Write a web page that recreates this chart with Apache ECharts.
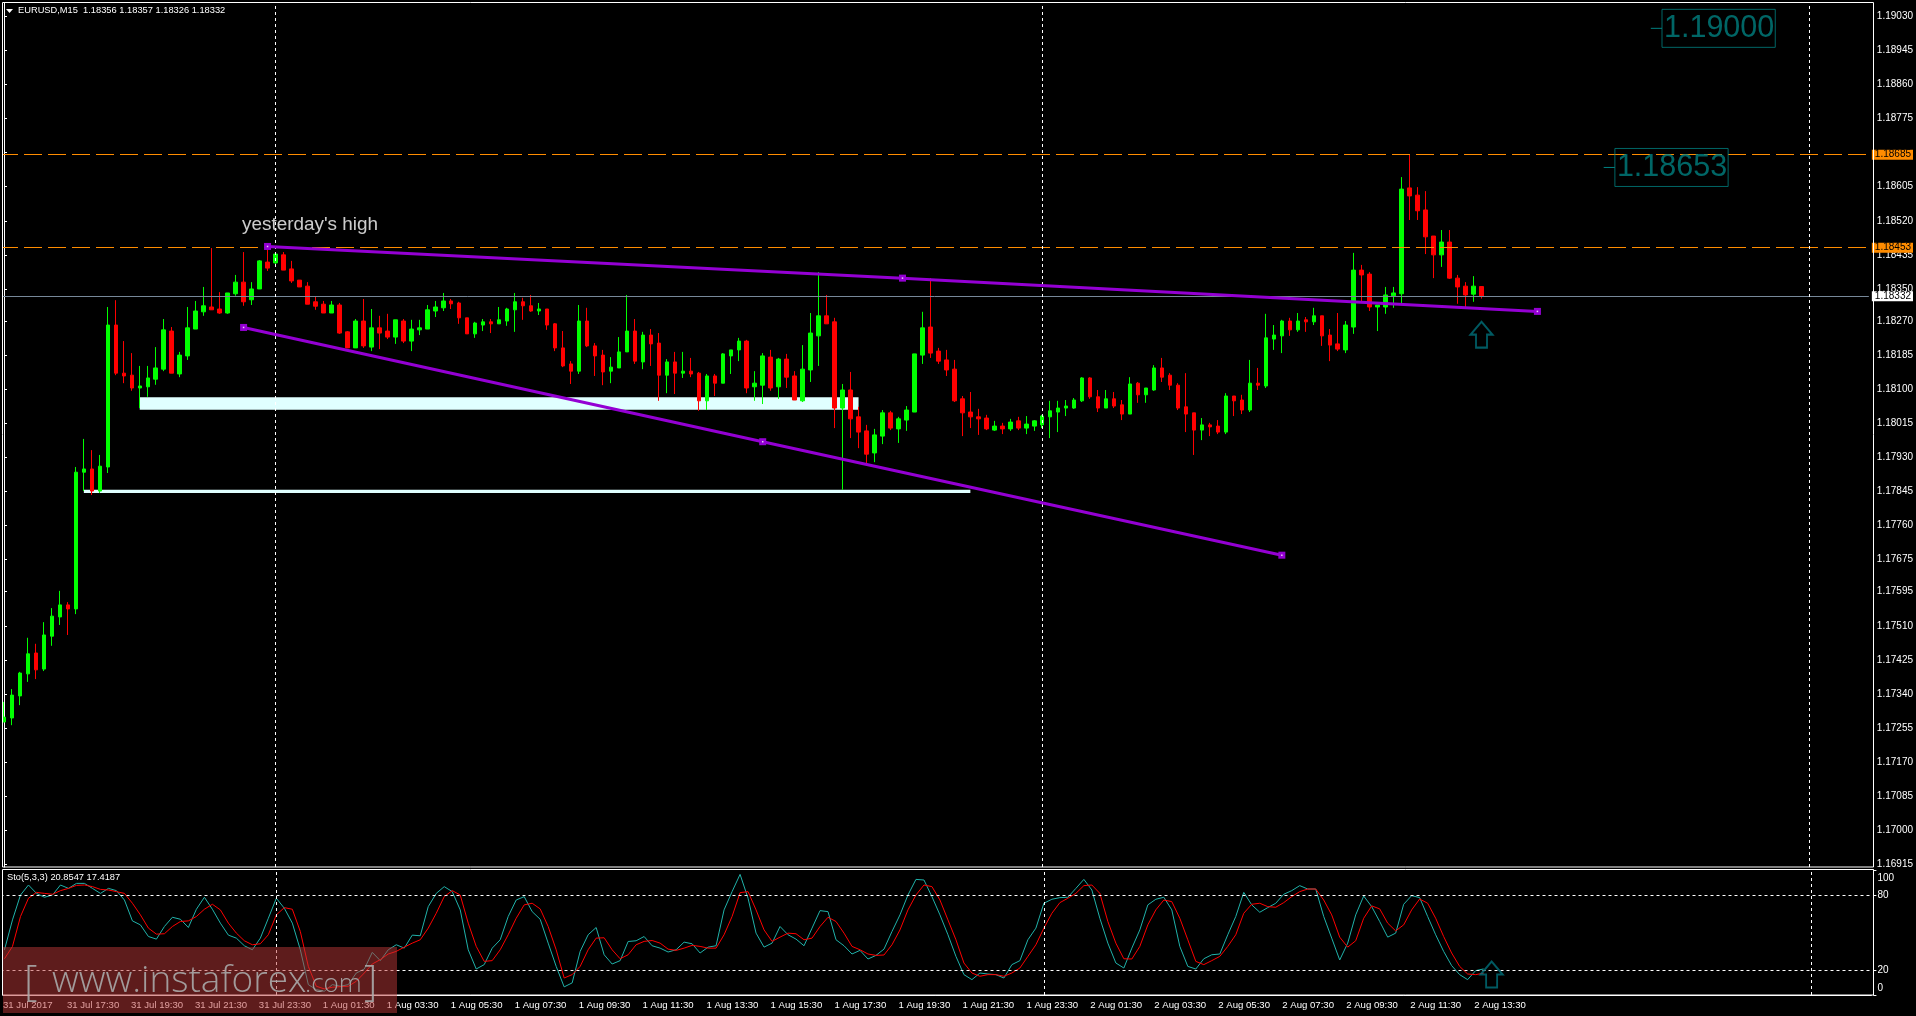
<!DOCTYPE html>
<html><head><meta charset="utf-8"><style>html,body{margin:0;padding:0;background:#000}#c{width:1916px;height:1016px}</style>
<script src="https://cdn.jsdelivr.net/npm/echarts@6/dist/echarts.min.js"></script></head><body><div id="c"></div>
<script>
// EURUSD M15 candles, in points (price x 100000): open, close, low, high
const ohlcPoints = [
[117270,117282,117270,117320],[117280,117337,117262,117352],[117335,117392,117312,117395],[117390,117440,117370,117480],[117442,117400,117377,117465],[117402,117487,117397,117519],[117484,117534,117460,117554],[117532,117562,117512,117597],
[117562,117552,117487,117569],[117552,117893,117539,117906],[117893,117901,117846,117976],[117901,117846,117836,117948],[117846,117908,117841,117936],[117906,118260,117891,118305],[118260,118140,118135,118322],[118140,118133,118115,118220],
[118135,118103,118096,118190],[118103,118108,118053,118158],[118106,118128,118081,118158],[118125,118153,118111,118205],[118150,118248,118145,118275],[118245,118140,118140,118255],[118138,118185,118130,118193],[118183,118253,118173,118305],
[118250,118295,118250,118320],[118293,118308,118283,118355],[118305,118298,118298,118452],[118300,118290,118288,118342],[118290,118340,118288,118340],[118338,118367,118333,118385],[118367,118318,118308,118442],[118323,118350,118310,118367],
[118350,118420,118350,118422],[118417,118402,118395,118457],[118415,118437,118410,118442],[118435,118397,118397,118442],[118400,118370,118365,118420],[118372,118355,118355,118372],[118357,118312,118312,118367],[118318,118307,118298,118330],
[118312,118290,118290,118320],[118290,118310,118290,118320],[118310,118240,118238,118315],[118243,118203,118203,118245],[118203,118270,118203,118275],[118270,118208,118203,118325],[118205,118253,118195,118300],[118253,118240,118200,118283],
[118245,118230,118225,118288],[118230,118273,118213,118273],[118270,118220,118215,118275],[118220,118250,118195,118273],[118248,118253,118235,118273],[118250,118298,118250,118310],[118295,118305,118280,118320],[118303,118320,118295,118340],
[118320,118313,118300,118325],[118315,118278,118263,118318],[118278,118238,118238,118278],[118238,118265,118228,118268],[118260,118268,118245,118275],[118268,118263,118240,118275],[118263,118273,118263,118305],[118270,118300,118258,118303],
[118298,118318,118243,118340],[118318,118308,118273,118328],[118308,118295,118293,118335],[118295,118300,118285,118315],[118300,118260,118248,118300],[118263,118203,118195,118265],[118203,118158,118155,118245],[118163,118145,118113,118170],
[118145,118270,118138,118310],[118270,118208,118205,118303],[118208,118183,118133,118215],[118185,118143,118110,118198],[118145,118155,118115,118180],[118153,118193,118153,118230],[118193,118245,118193,118335],[118245,118170,118163,118275],
[118168,118235,118150,118243],[118235,118213,118158,118250],[118215,118135,118071,118240],[118135,118168,118090,118175],[118168,118140,118088,118193],[118140,118145,118128,118193],[118145,118138,118130,118178],[118140,118071,118046,118143],
[118071,118133,118048,118138],[118133,118115,118083,118138],[118115,118188,118115,118190],[118183,118198,118138,118198],[118198,118220,118170,118228],[118220,118103,118090,118223],[118106,118115,118071,118145],[118110,118183,118063,118190],
[118180,118103,118096,118198],[118106,118175,118076,118178],[118175,118130,118103,118188],[118133,118073,118073,118145],[118071,118150,118068,118210],[118148,118240,118118,118290],[118233,118283,118158,118392],[118283,118263,118263,118335],
[118268,118053,118003,118278],[118053,118098,117849,118113],[118098,118026,117978,118143],[118031,117993,117953,118056],[117996,117938,117914,118011],[117941,117986,117918,118001],[117983,118041,117963,118048],[118041,118003,117998,118046],
[118001,118026,117966,118031],[118023,118048,117996,118058],[118043,118188,118043,118188],[118185,118253,118163,118293],[118255,118190,118178,118377],[118195,118170,118163,118203],[118173,118148,118133,118198],[118150,118071,118068,118173],
[118076,118041,117983,118083],[118043,118031,118003,118093],[118031,118026,117986,118051],[118028,118001,117998,118036],[117998,118008,117996,118021],[118008,118001,117988,118016],[118001,118018,117996,118026],[118021,118003,117998,118031],
[118003,118013,117988,118033],[118008,118021,117996,118023],[118011,118033,118003,118036],[118031,118046,117978,118071],[118043,118053,117993,118071],[118053,118058,118033,118073],[118053,118073,118051,118078],[118071,118128,118068,118130],
[118128,118081,118076,118130],[118081,118053,118043,118098],[118053,118076,118053,118098],[118076,118058,118053,118093],[118061,118038,118023,118073],[118038,118113,118038,118130],[118115,118086,118066,118118],[118086,118103,118066,118103],
[118098,118153,118096,118160],[118153,118130,118118,118178],[118135,118110,118098,118140],[118110,118053,118048,118115],[118056,118038,117993,118140],[118041,117998,117936,118041],[117998,118011,117973,118028],[118011,118006,117983,118016],
[118008,117993,117988,118023],[117993,118083,117988,118090],[118083,118071,118033,118083],[118073,118048,118038,118086],[118048,118115,118043,118173],[118115,118110,118098,118153],[118108,118228,118103,118288],[118225,118235,118198,118260],
[118233,118270,118190,118273],[118270,118248,118233,118278],[118248,118270,118243,118290],[118273,118268,118243,118280],[118268,118283,118260,118303],[118283,118233,118208,118283],[118235,118210,118170,118250],[118213,118200,118195,118290],
[118198,118260,118190,118270],[118255,118397,118238,118440],[118397,118385,118318,118410],[118387,118305,118295,118392],[118305,118310,118245,118310],[118305,118335,118288,118355],[118333,118340,118303,118355],[118338,118599,118315,118629],
[118602,118582,118522,118685],[118584,118545,118522,118604],[118547,118480,118437,118594],[118482,118435,118377,118482],[118435,118467,118405,118497],[118467,118377,118375,118497],[118377,118355,118313,118385],[118357,118335,118300,118367],
[118337,118357,118318,118382],[118356,118332,118326,118357]];
const stochK = [36.2,60.1,80,88,81.3,78.2,80,88,85.3,89.3,89.3,85.3,81.3,85.3,83.5,76,59.3,56.1,46.8,44.7,54.8,62.2,60.6,54,68.6,78.2,68.6,57.5,47.9,45.5,39.4,36.2,45.5,61.4,77.4,69.4,57.5,36.2,8.3,4.3,3,8.3,7,8.3,17.6,20.8,34.1,27.5,36.2,40.2,37.5,47.9,47.4,70.7,81.3,86.7,82.7,68.1,36.2,20.8,24.3,37.5,44.2,62.8,76,78.7,66.7,60.6,41.5,22.9,6.5,9.7,34.9,48.2,54,32.2,24.8,27.5,42.8,43.4,46.8,39.4,37.5,34.4,36.2,42.3,41,33.6,38.3,39.4,68.1,82.7,96.5,77.4,49.5,38.3,41.5,54.8,48.2,44.7,39.4,53.5,67.5,66.7,44.2,39.4,32.8,35.7,28.8,31.7,36.7,50.8,64.1,80,92.5,92,78.7,64.1,48.2,30.9,16.3,12.3,17.6,16.8,16.3,13.6,24.3,27.5,44.2,53.5,73.4,76.6,77.9,78.2,85.3,92.5,84,61.4,41.5,25.6,21.6,37.5,52.1,72.1,76.6,78.2,68.1,38.9,22.9,20.8,29,32.2,32.8,48.2,62.8,82.1,72.1,66.2,69.9,73.4,80.6,83.5,87.5,84.8,84.8,62.8,45.5,28,41.5,64.1,79.2,70.7,58.8,46.3,49.5,72.6,79.5,77.9,62.8,48.2,34.9,23.5,16.3,12.3,19.5,20.85];
const stochD = [29,38.9,62.8,77.4,82.1,81.3,80.6,83.5,85.3,87.7,88,86.7,84.5,84,82.7,81.3,73.4,64.1,53.5,48.7,49,54.8,58.8,59.3,62.8,68.6,72.6,68.1,57.5,49.5,43.4,40.2,41,48.2,64.1,69.9,68.6,50.8,22.9,7,4.9,6.2,6.7,7,11,17.6,24.8,28.3,32.8,34.9,38.3,41.5,44.2,53.5,65.4,78.7,83.5,80,57.5,38.9,26.9,27.5,36.2,48.2,61.4,72.1,73.4,68.9,54.8,36.2,13.6,16.3,22.9,36.2,45.5,45.8,36.2,29,32.2,40.2,42.9,43.6,41.5,36.7,35.7,37.5,39.7,38.9,37.5,37.5,48.2,62.8,81.9,82.7,68.1,52.1,42.9,46.3,49.5,49,44.2,45.5,54.8,62.2,58.8,49.5,38.9,36.2,32.8,31.7,32,40.2,52.1,68.1,80,88,86.7,76,60.1,44.2,25.6,17.6,15,16.3,16.3,15,17.6,21.6,30.9,40.2,53.5,65.4,73.9,77.4,81.3,87.5,88,81.3,58.8,41.5,29,28.8,38.9,56.1,68.1,76,74.7,61.4,44.2,26.9,24.3,27.5,30.9,38.9,48.2,65.4,72.6,73.4,70.7,70.2,73.9,78.7,82.7,84.8,84.8,76,64.1,46.3,38.3,43.4,61.4,71.3,68.9,57.5,51.3,56.1,68.1,76.8,73.4,61.4,46.8,33.6,22.9,16.8,16.3,17.42];
const tickLabels = ['31 Jul 2017','31 Jul 17:30','31 Jul 19:30','31 Jul 21:30','31 Jul 23:30','1 Aug 01:30','1 Aug 03:30','1 Aug 05:30','1 Aug 07:30','1 Aug 09:30','1 Aug 11:30','1 Aug 13:30','1 Aug 15:30','1 Aug 17:30','1 Aug 19:30','1 Aug 21:30','1 Aug 23:30','2 Aug 01:30','2 Aug 03:30','2 Aug 05:30','2 Aug 07:30','2 Aug 09:30','2 Aug 11:30','2 Aug 13:30'];
const priceTicks = [1.19030,1.18945,1.18860,1.18775,1.18605,1.18520,1.18435,1.18350,1.18270,1.18185,1.18100,1.18015,1.17930,1.17845,1.17760,1.17675,1.17595,1.17510,1.17425,1.17340,1.17255,1.17170,1.17085,1.17000,1.16915];
const stochTicks = [0,20,80,100];
const stochLevels = [20,80];
const daySeparators = [34,130,226];
const orangeLevels = [1.18685,1.18453];
const lastPrice = 1.18332;
const upperTrend = [[33,1.18456],[112.5,1.18377],[192,1.18294]];
const lowerTrend = [[30,1.18254],[95,1.17969],[160,1.17686]];
const zones = [[17,1.18080,107,1.18049],[10,1.17849,121,1.17841]];
const notes = [[29.8,1.18510,"yesterday's high"]];
const priceBoxes = [[207.6,1.19000,'1.19000'],[201.7,1.18653,'1.18653']];
const priceStubs = [[[206.2,1.19000],[207.6,1.19000]],[[200.3,1.18653],[201.7,1.18653]]];
const arrowMain = [[185,1.18236]];
const arrowStoch = [[186,16.4]];

const slots = 234;
const categories = Array.from({length:slots},(_,i)=> (i%8===0 && tickLabels[i/8]) || '');
const candles = ohlcPoints.map(r=>r.map(v=>v/100000));
const FONT = 'Liberation Sans';
const ARROW = 'path://M11 0 L22 13 L16.5 13 L16.5 26 L5.5 26 L5.5 13 L0 13 Z';
const hasLabel = (i,v)=> v !== '';
const vLines = daySeparators.map(x=>({xAxis:x}));
const hStyle = {color:'#FF8C00',type:[18,6],width:1};
const markLabel = (bg)=>({show:true,position:'end',distance:3,formatter:p=>p.value.toFixed(5),color:'#000',backgroundColor:bg,padding:[0,2,0,3],fontFamily:FONT,fontSize:10});
const priceLines = [
  ...orangeLevels.map(v=>({yAxis:v,lineStyle:hStyle,label:markLabel('#FF8C00')})),
  {yAxis:lastPrice,lineStyle:{color:'#778899',type:'solid',width:1},label:markLabel('#fff')},
  ...vLines
];
const trend = (name,data)=>[
  {type:'line',name,xAxisIndex:2,yAxisIndex:0,z:5,data,symbol:'rect',symbolSize:7,showAllSymbol:true,lineStyle:{color:'#9400D3',width:3},itemStyle:{color:'#9400D3'},silent:true},
  {type:'scatter',xAxisIndex:2,yAxisIndex:0,z:6,data,symbol:'rect',symbolSize:1.5,itemStyle:{color:'#fff'},silent:true}
];

const option = {
  animation:false, backgroundColor:'#000',
  title:[
    {text:'EURUSD,M15  1.18356 1.18357 1.18326 1.18332',left:18,top:6,padding:0,textStyle:{color:'#fff',fontFamily:FONT,fontWeight:'normal',fontSize:9.3}},
    {text:'Sto(5,3,3) 20.8547 17.4187',left:7,top:873,padding:0,textStyle:{color:'#fff',fontFamily:FONT,fontWeight:'normal',fontSize:9.3}}
  ],
  grid:[
    {left:-0.6,top:3,width:1872,height:864},
    {left:-0.6,top:870,width:1872,height:125}
  ],
  xAxis:[
    {type:'category',gridIndex:0,data:categories,show:false},
    {type:'category',gridIndex:1,data:categories,
      axisLine:{lineStyle:{color:'#fff'}},
      axisTick:{alignWithLabel:true,interval:hasLabel,length:3,lineStyle:{color:'#fff'}},
      axisLabel:{interval:hasLabel,align:'left',color:'#fff',fontFamily:FONT,fontSize:9.6,margin:5,padding:[0,0,0,-1.5]}},
    {type:'value',gridIndex:0,min:-0.5,max:slots-0.5,show:false,splitLine:{show:false}}
  ],
  yAxis:[
    {type:'value',gridIndex:0,position:'right',offset:2,min:1.169083,max:1.190632,scale:true,z:0,splitLine:{show:false},
      axisLine:{show:true,lineStyle:{color:'#fff'}},
      axisTick:{show:true,length:3,lineStyle:{color:'#fff'},customValues:[...priceTicks,1.18690]},
      axisLabel:{color:'#fff',fontFamily:FONT,fontSize:10,margin:6,customValues:priceTicks,formatter:v=>v.toFixed(5)}},
    {type:'value',gridIndex:1,position:'right',offset:2,min:0,max:100,z:0,splitLine:{show:false},
      axisLine:{show:true,lineStyle:{color:'#fff'}},
      axisTick:{show:true,length:3,lineStyle:{color:'#fff'},customValues:stochTicks},
      axisLabel:{color:'#fff',fontFamily:FONT,fontSize:10,margin:4,customValues:stochTicks,
        formatter:v=> v===100 ? '{high|100}' : v===0 ? '{low|0}' : String(v),
        rich:{high:{color:'#fff',fontFamily:FONT,fontSize:10,padding:[16,0,0,0]},low:{color:'#fff',fontFamily:FONT,fontSize:10,padding:[0,0,14,0]}}}}
  ],
  series:[
    {type:'custom',xAxisIndex:2,yAxisIndex:0,z:1,silent:true,data:zones,clip:true,
      renderItem:(p,api)=>{const a=api.coord([api.value(0),api.value(1)]),b=api.coord([api.value(2),api.value(3)]);
        return {type:'rect',shape:{x:a[0],y:a[1],width:b[0]-a[0],height:b[1]-a[1]},style:{fill:'#E0FFFF'}};}},
    {type:'candlestick',xAxisIndex:0,yAxisIndex:0,z:3,barWidth:4,data:candles,silent:true,
      itemStyle:{color:'#00FF00',color0:'#FF0000',borderColor:'#00FF00',borderColor0:'#FF0000',borderWidth:1},
      markLine:{silent:true,symbol:'none',animation:false,precision:5,lineStyle:{color:'#fff',type:[3,3],width:1},data:priceLines,label:{show:false}}},
    ...trend('upper',upperTrend),
    ...trend('lower',lowerTrend),
    ...priceStubs.map(d=>({type:'line',xAxisIndex:2,yAxisIndex:0,z:6,data:d,symbol:'none',lineStyle:{color:'#008080',width:1},silent:true})),
    {type:'scatter',xAxisIndex:2,yAxisIndex:0,z:7,data:notes,symbolSize:0,silent:true,
      label:{show:true,position:'right',distance:0,formatter:p=>p.data[2],color:'#fff',fontFamily:FONT,fontSize:18.9}},
    {type:'scatter',xAxisIndex:2,yAxisIndex:0,z:7,data:priceBoxes,symbolSize:0,silent:true,
      label:{show:true,position:'right',distance:0,formatter:p=>p.data[2],color:'#008080',fontFamily:FONT,fontSize:30.5,
        borderColor:'#008080',borderWidth:1,padding:[9,1,0,2],lineHeight:29}},
    {type:'scatter',xAxisIndex:0,yAxisIndex:0,z:7,data:arrowMain,symbol:ARROW,symbolSize:[22,26],silent:true,
      itemStyle:{color:'rgba(0,0,0,0)',borderColor:'#00707A',borderWidth:2}},
    {type:'line',name:'%K',xAxisIndex:1,yAxisIndex:1,z:3,data:stochK,symbol:'none',lineStyle:{color:'#20B2AA',width:1},silent:true,
      markLine:{silent:true,symbol:'none',animation:false,lineStyle:{color:'#fff',type:[3,3],width:1},label:{show:false},
        data:[...stochLevels.map(v=>({yAxis:v})),...vLines]}},
    {type:'line',name:'%D',xAxisIndex:1,yAxisIndex:1,z:4,data:stochD,symbol:'none',lineStyle:{color:'#FF0000',width:1},silent:true},
    {type:'scatter',xAxisIndex:1,yAxisIndex:1,z:7,data:arrowStoch,symbol:ARROW,symbolSize:[22,26],silent:true,
      itemStyle:{color:'rgba(0,0,0,0)',borderColor:'#00707A',borderWidth:2}}
  ],
  graphic:[
    {type:'rect',z:40,shape:{x:0,y:0,width:2.5,height:1000},style:{fill:'#000'}},
    {type:'rect',z:41,shape:{x:2.5,y:2.5,width:1871,height:864.5},style:{fill:'none',stroke:'#fff',lineWidth:1}},
    {type:'rect',z:41,shape:{x:2.5,y:869.5,width:1871,height:125.5},style:{fill:'none',stroke:'#fff',lineWidth:1}},
    {type:'polygon',z:42,shape:{points:[[6,9],[13,9],[9.5,13]]},style:{fill:'#fff'}},
    {type:'rect',z:50,shape:{x:3,y:947,width:394,height:66},style:{fill:'rgba(188,56,56,0.5)'}},
    {type:'text',z:51,x:24,y:962,style:{text:'[',fill:'rgba(170,170,170,0.9)',font:'300 42px "Open Sans"'}},
    {type:'text',z:51,x:52,y:963,style:{text:'www.instaforex',fill:'rgba(170,170,170,0.9)',font:'300 37px "Open Sans"'}},
    {type:'text',z:51,x:305,y:972,style:{text:'.com',fill:'rgba(170,170,170,0.9)',font:'300 26px "Open Sans"'}},
    {type:'text',z:51,x:364,y:962,style:{text:']',fill:'rgba(170,170,170,0.9)',font:'300 42px "Open Sans"'}}
  ]
};
echarts.init(document.getElementById('c')).setOption(option);
</script></body></html>
